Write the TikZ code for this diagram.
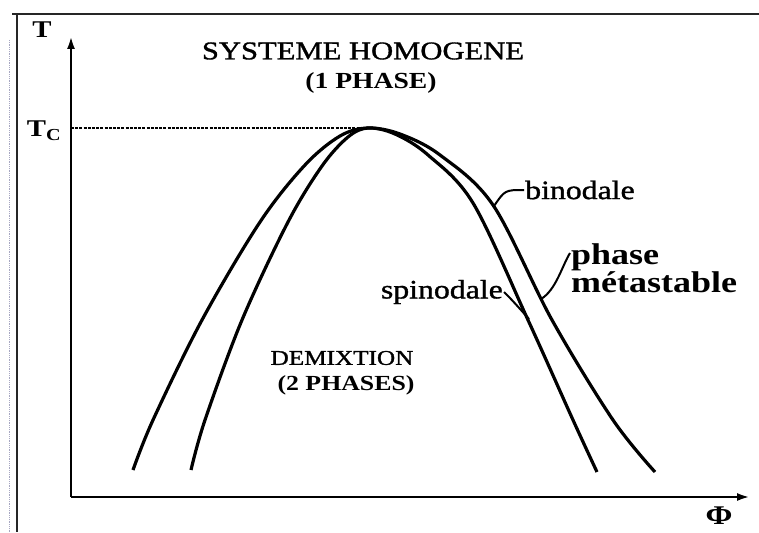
\documentclass[tikz,border=0pt]{standalone}
\usepackage{fontspec}
\setmainfont{Liberation Serif}[FakeStretch=1.2]
\newfontfamily\scanfont{Liberation Serif}[FakeStretch=1.2, FakeBold=1.3]
\usetikzlibrary{arrows.meta, positioning, calc}
\tikzset{
    % frame of the scanned figure
    frameline/.style={line width=2.6pt, black!85},
    % axes of the phase diagram
    axis/.style={-{Latex[length=13pt, width=8pt]}, line width=2.6pt},
    % coexistence and stability curves
    curve/.style={line width=3.2pt},
    % thin leader lines from labels to curves
    leader/.style={line width=2pt},
    % region names and curve labels
    region/.style={inner sep=0pt, align=center},
    tag/.style={font=\scanfont\fontsize{26.5}{28}\selectfont, inner sep=1pt},
}

\begin{document}
\begin{tikzpicture}[x=1pt, y=-1pt]
    \useasboundingbox (0,0) rectangle (759,532);

    % ===== frame =====
    \draw[blue!30!black!35, densely dotted, line width=0.8pt] (9,40) -- (9,532);
    \draw[frameline] (12,14) -- (759,14);
    \draw[frameline] (17,14) -- (17,532);

    % ===== axes =====
    \coordinate (orig) at (71,497);
    \coordinate (ytop) at (71,36);
    \coordinate (xend) at (750,497);
    \draw[axis] (orig) -- (ytop);
    \draw[axis] (orig) -- (xend);
    \node[font=\bfseries\fontsize{24}{24}\selectfont] (tlab) at (42,30) {T};
    \node[font=\bfseries\fontsize{27}{27}\selectfont] (philab) at (719,516) {Φ};

    % critical temperature
    \node[font=\bfseries\fontsize{24}{24}\selectfont] (tclab) at (44,131) {T\textsubscript{C}};
    \coordinate (tc) at (71,128);
    \coordinate (crit) at (368,128);
    \draw[line width=1.6pt, dash pattern=on 3pt off 1.2pt] (tc) -- (crit);

    % ===== binodale (outer) and spinodale (inner) =====
    \draw[curve] plot[smooth, tension=0.55] coordinates {
        (133,470) (153,420) (202,320) (260,222) (305,165) (340,136) (368,128)
        (400,134) (440,155) (493,205) (552,320) (613,420) (655,472)};
    \draw[curve] plot[smooth, tension=0.55] coordinates {
        (191,470) (205,420) (242,320) (288,222) (322,166) (348,137) (368,128)
        (395,134) (428,155) (473,203) (528,320) (573,420) (597,472)};

    % ===== labels =====
    \node[region, font=\scanfont\fontsize{25.5}{28}\selectfont] (homog) at (363,51) {SYSTEME HOMOGENE};
    \node[region, font=\bfseries\fontsize{23}{26}\selectfont] (phase1) at (371,83) {(1 PHASE)};
    \node[region, font=\scanfont\fontsize{21}{24}\selectfont] (demix) at (342,358) {DEMIXTION};
    \node[region, font=\bfseries\fontsize{21.5}{24}\selectfont] (phase2) at (346,385) {(2 PHASES)};

    \coordinate (bpt) at (494,206);
    \node[tag, anchor=west] (bino) at (524,190) {binodale};
    \draw[leader] (bpt) .. controls (505,190) .. (bino.west);

    \coordinate (spt) at (529,319);
    \node[tag, anchor=east] (spino) at (504,292) {spinodale};
    \draw[leader] (spino.east) .. controls (512,300) .. (spt);

    \coordinate (mpt) at (541,299);
    \node[tag, font=\bfseries\fontsize{30}{26}\selectfont, anchor=north west, align=left]
        (meta) at (570,242) {phase\\métastable};
    \draw[leader] (mpt) .. controls (556,290) and (562,266) .. (570,253);
\end{tikzpicture}
\end{document}
